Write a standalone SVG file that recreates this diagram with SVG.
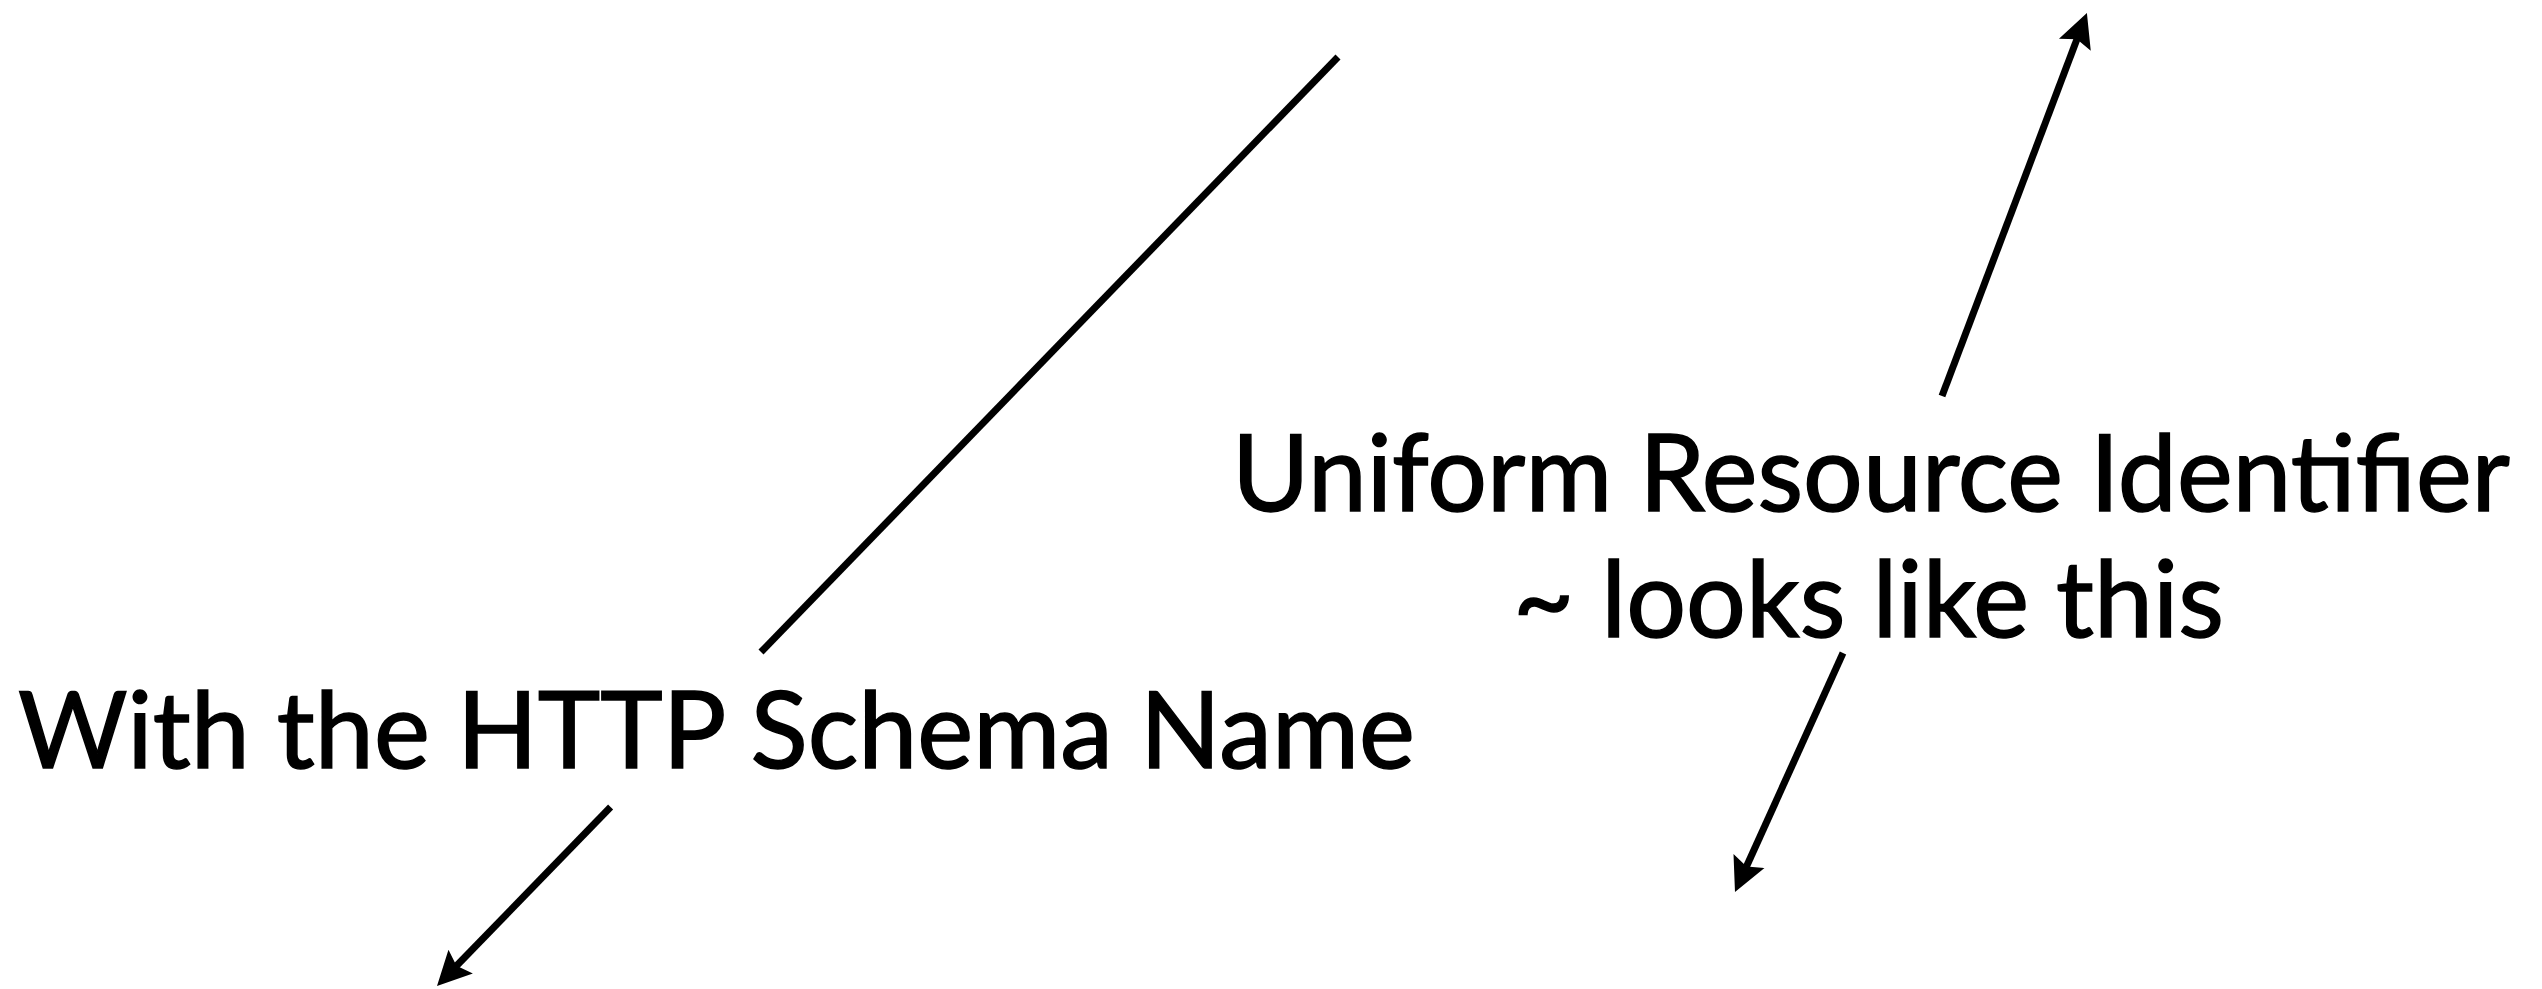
<svg xmlns="http://www.w3.org/2000/svg" width="2542" height="989" viewBox="0 0 2542 989">
<style>
.lbl{font-family:Lato,"Liberation Sans",sans-serif;font-size:107px;fill:#000;stroke:#000;stroke-width:1.5}
.conn{stroke:#000;stroke-width:7;fill:none;stroke-linecap:butt}
</style>
<defs>
<marker id="ah" markerUnits="userSpaceOnUse" markerWidth="40" markerHeight="40" viewBox="0 -20 40 40" refX="8" refY="0" orient="auto">
<path d="M34,0 L0,-17 L6,0 L0,17 Z" fill="#000"/>
</marker>
</defs>
<rect width="2542" height="989" fill="#fff"/>
<g id="connectors">
<path class="conn" d="M1338,57 L761,652"/>
<path class="conn" d="M610.6,807 L455.1,967.3" marker-end="url(#ah)"/>
<path class="conn" d="M1942,396 L2077.7,37.3" marker-end="url(#ah)"/>
<path class="conn" d="M1843,653 L1745.7,868.3" marker-end="url(#ah)"/>
</g>
<g id="node-http">
<text class="lbl" x="18" y="768" textLength="1397" lengthAdjust="spacingAndGlyphs">With the HTTP Schema Name</text>
</g>
<g id="node-uri">
<text class="lbl" x="1232" y="511" textLength="1278" lengthAdjust="spacingAndGlyphs">Uniform Resource Identifier</text>
<text class="lbl" x="1513" y="637" textLength="711" lengthAdjust="spacingAndGlyphs">~ looks like this</text>
</g>
</svg>
